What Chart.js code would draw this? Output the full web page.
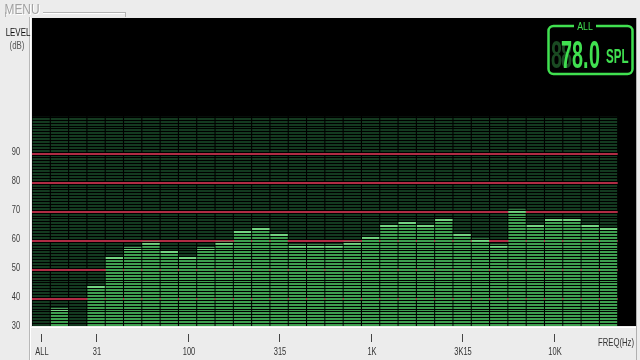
<!DOCTYPE html>
<html>
<head>
  <meta charset="UTF-8" />
  <title>Analisador de espectro - 1/3 de oitava</title>
  <script src="https://cdn.jsdelivr.net/npm/chart.js"></script>
  <style>
    body {
      margin: 0;
      background-color: #ececec;
    }
    canvas {
      display: block;
    }
  </style>
</head>
<body>
  <canvas id="espectro" width="640" height="360"></canvas>

  <script>
    // bandas de 1/3 de oitava e niveis lidos (dB)
    const bands = ['31.5', '40', '50', '63', '80', '100', '125', '160', '200', '250', '315', '400', '500', '630', '800',
                   '1K', '1K25', '1K6', '2K', '2K5', '3K15', '4K', '5K', '6K3', '8K', '10K', '12K5', '16K', '20K'];
    const bandLevels = [44, 54, 57, 59, 56, 54, 57, 59, 63, 64, 62, 58, 58, 58, 59,
                        61, 65, 66, 65, 67, 62, 60, 58, 70, 65, 67, 67, 65, 64];
    const allLevel = 36;
    const meterTop = 102;
    const splReading = '78.0';

    const levelTicks = [30, 40, 50, 60, 70, 80, 90];
    const redLines = [40, 50, 60, 70, 80, 90];
    const tickLabels = ['ALL', '', '', '31', '', '', '', '', '100', '', '', '', '', '315', '', '', '', '', '1K',
                        '', '', '', '', '3K15', '', '', '', '', '10K', '', '', '', ''];

    // colunas: vazio, ALL, vazio, bandas..., margem
    const categories = ['', 'ALL', ''].concat(bands, ['']);
    const levelData = [null, allLevel, null].concat(bandLevels, [null]);
    const meterData = categories.map((c, i) => i < categories.length - 1 ? meterTop : null);
    const peakData = levelData.map(v => v == null ? null : [v - 1, v]);

    function textoEstreito(ctx, txt, x, y, font, color, sx, align, baseline) {
      ctx.save();
      ctx.font = font;
      ctx.fillStyle = color;
      ctx.textAlign = align || 'center';
      ctx.textBaseline = baseline || 'middle';
      ctx.translate(x, y);
      ctx.scale(sx, 1);
      ctx.fillText(txt, 0, 0);
      ctx.restore();
    }

    function limiteColunas(chart) {
      const x = chart.scales.x;
      const colW = (x.right - x.left) / categories.length;
      return x.getPixelForValue(categories.length - 2) + colW / 2;
    }

    const painel = {
      id: 'painel',
      beforeDraw(chart) {
        const { ctx, chartArea: a, width, height } = chart;
        ctx.save();
        ctx.fillStyle = '#ececec';
        ctx.fillRect(0, 0, width, height);
        ctx.fillStyle = '#000000';
        ctx.fillRect(a.left, a.top, a.right - a.left, a.bottom - a.top);
        ctx.restore();
      },
      beforeDatasetDraw(chart, args) {
        if (args.index !== 1) return;
        const { ctx, chartArea: a, scales: { y } } = chart;
        const right = limiteColunas(chart);
        ctx.save();
        ctx.fillStyle = '#b02c44';
        redLines.forEach(v => {
          const py = Math.round(y.getPixelForValue(v));
          ctx.fillRect(a.left, py + 1, right - a.left, 2);
        });
        ctx.restore();
      },
      afterDatasetsDraw(chart) {
        const { ctx, chartArea: a, scales: { y } } = chart;
        const right = limiteColunas(chart);
        ctx.save();
        ctx.fillStyle = '#000000';
        for (let v = 31; v <= meterTop; v++) {
          const py = Math.round(y.getPixelForValue(v));
          ctx.fillRect(a.left, py, right - a.left, 1);
        }
        ctx.restore();
      },
      afterDraw(chart) {
        const { ctx, chartArea: a, scales: { x, y } } = chart;
        ctx.save();

        // bordas
        ctx.fillStyle = '#b8b8b8';
        ctx.fillRect(29, 17, 1, 343);
        ctx.fillStyle = '#ffffff';
        ctx.fillRect(30, 17, 1, 343);
        ctx.fillRect(31, a.bottom + 1, 605, 1);
        ctx.fillStyle = '#b0b0b0';
        ctx.fillRect(a.right, a.top, 1, 342);

        // MENU
        ctx.fillStyle = '#b4b4b4';
        ctx.fillRect(43, 12, 82, 1);
        ctx.fillRect(125, 12, 1, 5);
        ctx.fillRect(5, 12, 1, 5);
        ctx.fillStyle = '#ffffff';
        ctx.fillRect(43, 13, 82, 1);
        textoEstreito(ctx, 'MENU', 23, 11, '14px "Liberation Sans"', '#ffffff', 0.85);
        textoEstreito(ctx, 'MENU', 22, 10, '14px "Liberation Sans"', '#a2a2a2', 0.85);

        // eixo vertical
        textoEstreito(ctx, 'LEVEL', 18, 33, '11px "Liberation Sans"', '#111111', 0.72);
        textoEstreito(ctx, '(dB)', 17, 46, '11px "Liberation Sans"', '#555555', 0.72);
        levelTicks.forEach(v => {
          textoEstreito(ctx, String(v), 16, y.getPixelForValue(v), '11px "Liberation Sans"', '#3a3a3a', 0.68);
        });

        // eixo horizontal
        ctx.fillStyle = '#444444';
        tickLabels.forEach((t, i) => {
          if (!t) return;
          const px = Math.round(x.getPixelForValue(i));
          ctx.fillRect(px, a.bottom + 8, 1, 8);
          textoEstreito(ctx, t, px + 1, 352, '11px "Liberation Sans"', '#333333', 0.68);
        });
        textoEstreito(ctx, 'FREQ(Hz)', 616, 343, '11px "Liberation Sans"', '#333333', 0.7);

        // mostrador digital
        const verde = '#40e050';
        const apagado = '#1a4a22';
        ctx.strokeStyle = verde;
        ctx.lineWidth = 2.5;
        ctx.beginPath();
        ctx.roundRect(548.5, 26, 84, 48, 5);
        ctx.stroke();
        ctx.fillStyle = '#000000';
        ctx.fillRect(574, 21, 22, 9);
        textoEstreito(ctx, 'ALL', 585, 27, '11px "Liberation Sans"', verde, 0.8);

        const dFont = 'bold 38px "Liberation Sans"';
        textoEstreito(ctx, '8', 551, 68, dFont, apagado, 0.52, 'left', 'alphabetic');
        textoEstreito(ctx, '8', 561, 68, dFont, apagado, 0.52, 'left', 'alphabetic');
        const xs = [561, 572, 583, 589];
        splReading.split('').forEach((c, i) => {
          textoEstreito(ctx, c, xs[i], 68, dFont, verde, 0.52, 'left', 'alphabetic');
        });
        textoEstreito(ctx, 'SPL', 606, 63, 'bold 20px "Liberation Sans"', verde, 0.58, 'left', 'alphabetic');

        ctx.restore();
      }
    };

    const ctx = document.getElementById('espectro').getContext('2d');
    const grafico = new Chart(ctx, {
      type: 'bar',
      data: {
        labels: categories,
        datasets: [
          { label: 'escala', data: meterData, backgroundColor: '#143a20', order: 3 },
          { label: 'nivel', data: levelData, backgroundColor: '#3f9f50', order: 2 },
          { label: 'pico', data: peakData, backgroundColor: '#74d482', order: 1 }
        ]
      },
      options: {
        responsive: false,
        animation: false,
        layout: { padding: { top: 18, right: 4, left: 0, bottom: 0 } },
        datasets: {
          bar: { grouped: false, barPercentage: 0.94, categoryPercentage: 1 }
        },
        plugins: {
          legend: { display: false },
          tooltip: { enabled: false }
        },
        scales: {
          x: {
            grid: { display: false },
            border: { display: false },
            ticks: { display: false },
            afterFit: s => { s.height = 34; }
          },
          y: {
            min: 30,
            max: 136,
            grid: { display: false },
            border: { display: false },
            ticks: { display: false, stepSize: 10 },
            afterFit: s => { s.width = 32; }
          }
        }
      },
      plugins: [painel]
    });
  </script>
</body>
</html>
